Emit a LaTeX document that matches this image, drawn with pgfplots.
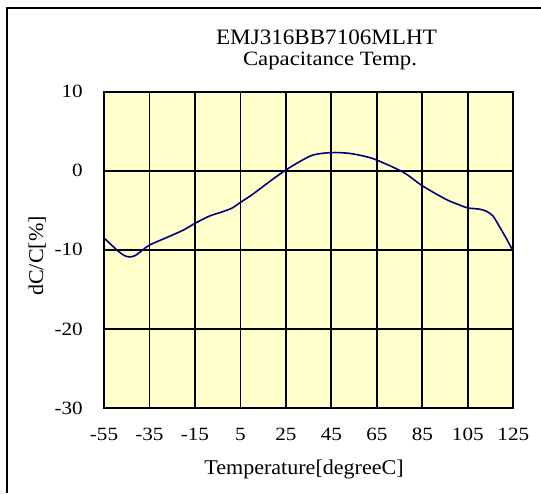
\documentclass[border=0pt]{standalone}
\usepackage{fontspec}
\setmainfont{Liberation Serif}
\newfontfamily\tickfont[FakeStretch=1.13]{Liberation Serif}
\newfontfamily\labfont[FakeStretch=1.05]{Liberation Serif}
\newfontfamily\subfont[FakeStretch=1.12]{Liberation Serif}
\usepackage{pgfplots}
\pgfplotsset{compat=1.18}
\definecolor{bgyellow}{RGB}{255,255,204}
\definecolor{curve}{RGB}{0,0,128}
\begin{document}
\begin{tikzpicture}[x=1pt,y=1pt]
\useasboundingbox (0,0) rectangle (541,493);
\draw[line width=1.5pt] (7,0) -- (7,485) -- (541,485);
\begin{axis}[
  at={(104pt,85pt)}, anchor=south west,
  scale only axis, width=409.3pt, height=316.3pt,
  xmin=-55, xmax=125, ymin=-30, ymax=10,
  xtick={-55,-35,-15,5,25,45,65,85,105,125},
  xticklabels={-55,-35,-15,5,25,45,65,85,105,125},
  ytick={-30,-20,-10,0,10},
  yticklabels={-30,-20,-10,0,10},
  grid=major,
  major grid style={black, line width=1.8pt},
  axis line style={black, line width=2pt},
  axis background/.style={fill=bgyellow},
  xtick style={draw=none},
  ytick style={black, line width=1.8pt},
  major tick length=0pt,
  xticklabel style={font=\tickfont\fontsize{18.7}{20}\selectfont, anchor=base, inner sep=0pt, yshift=-32pt},
  yticklabel style={font=\tickfont\fontsize{18.7}{20}\selectfont, anchor=east, inner sep=0pt, xshift=-21pt},
  clip=false,
]
\addplot[curve, line width=1.6pt, smooth, tension=0.5] coordinates {
(-55,-8.5) (-52,-9.3) (-49.4,-10.0) (-46.5,-10.65) (-44,-10.9) (-41.5,-10.75)
(-39.2,-10.3) (-35,-9.4) (-27.5,-8.45) (-20.1,-7.5) (-15,-6.65) (-8.4,-5.7)
(-4.1,-5.3) (1.1,-4.75) (5,-4.0) (10.5,-2.95) (19.3,-1.05) (25,0.1)
(31,1.15) (37,2.0) (45,2.3) (52.9,2.2) (60.1,1.8) (65,1.35) (76.7,-0.2)
(85,-1.9) (95.3,-3.6) (101.6,-4.35) (105,-4.7) (110,-4.85) (113,-5.1)
(116,-5.7) (119,-7.1) (122,-8.6) (125,-10.2)
};
\end{axis}
\node[font=\labfont\fontsize{22}{23}\selectfont, anchor=base, inner sep=0pt] at (326.5,448.5) {EMJ316BB7106MLHT};
\node[font=\subfont\fontsize{20.3}{21}\selectfont, anchor=base, inner sep=0pt] at (330,427) {Capacitance Temp.};
\node[font=\labfont\fontsize{21}{22}\selectfont, anchor=base, inner sep=0pt] at (304,19) {Temperature[degreeC]};
\node[font=\labfont\fontsize{21}{22}\selectfont, anchor=base, inner sep=0pt, rotate=90] at (43,237) {dC/C[\%]};
\end{tikzpicture}
\end{document}
